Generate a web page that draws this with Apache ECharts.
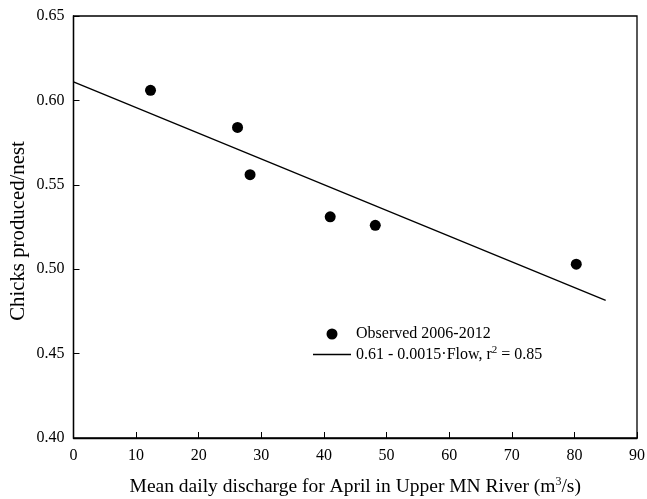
<!DOCTYPE html>
<html><head><meta charset="utf-8">
<script src="https://cdn.jsdelivr.net/npm/echarts@6/dist/echarts.min.js"></script>
<style>html,body{margin:0;padding:0;background:#fff}#c{width:647px;height:499px}</style>
</head><body><div id="c"></div>
<script>
const flow = [12.3, 26.2, 28.2, 41.0, 48.2, 80.3];
const chicks = [0.606, 0.584, 0.556, 0.531, 0.526, 0.503];
const fitX = [0, 85];
const fitY = [0.611, 0.4815];
const xTicks = [0, 10, 20, 30, 40, 50, 60, 70, 80, 90];
const yTicks = [0.40, 0.45, 0.50, 0.55, 0.60, 0.65];
const font = 'Liberation Serif';
const chart = echarts.init(document.getElementById('c'));
chart.setOption({
  animation: false,
  grid: {left: 73.5, right: 10, top: 16, bottom: 61, show: true, borderColor: '#000', borderWidth: 1.3,
    containLabel: false, outerBoundsMode: 'none'},
  xAxis: {type: 'value', min: xTicks[0], max: xTicks[xTicks.length-1], interval: 10,
    axisLine: {lineStyle: {color: '#000', width: 1.3}},
    axisTick: {inside: true, length: 6, lineStyle: {color: '#000'}},
    splitLine: {show: false},
    axisLabel: {color: '#000', fontFamily: font, fontSize: 16, margin: 10},
    name: 'Mean daily discharge for April in Upper MN River (m{sup|3}/s)',
    nameLocation: 'middle', nameGap: 38,
    nameTextStyle: {color: '#000', fontFamily: font, fontSize: 19.5,
      rich: {sup: {fontFamily: font, fontSize: 12, verticalAlign: 'top', color: '#000', padding: [0,0,9,0]}}}
  },
  yAxis: {type: 'value', min: 0.40, max: 0.65, interval: 0.05,
    axisLine: {lineStyle: {color: '#000', width: 1.3}},
    axisTick: {inside: true, length: 6, lineStyle: {color: '#000'}},
    splitLine: {show: false},
    axisLabel: {color: '#000', fontFamily: font, fontSize: 16, margin: 9, formatter: v => v.toFixed(2)},
    name: 'Chicks produced/nest', nameLocation: 'middle', nameGap: 44, nameMoveOverlap: false,
    nameTextStyle: {color: '#000', fontFamily: font, fontSize: 20.8, padding: [9, 8, 0, 0]}
  },
  legend: {orient: 'vertical', left: 308, top: 321, itemWidth: 38, itemHeight: 11, itemGap: 3,
    textStyle: {color: '#000', fontFamily: font, fontSize: 16,
      rich: {sup: {fontFamily: font, fontSize: 11, color: '#000', padding: [0,0,8,0]}}},
    data: [{name: 'Observed 2006-2012'},
           {name: '0.61 - 0.0015·Flow, r{sup|2} = 0.85', icon: 'path://M0,0H38V1.3H0Z'}]
  },
  series: [
    {type: 'scatter', name: 'Observed 2006-2012', data: flow.map((x,i)=>[x, chicks[i]]),
      symbolSize: 11, itemStyle: {color: '#000', opacity: 1}},
    {type: 'line', name: '0.61 - 0.0015·Flow, r{sup|2} = 0.85', data: fitX.map((x,i)=>[x, fitY[i]]),
      symbol: 'none', lineStyle: {color: '#000', width: 1.3}, itemStyle: {color: '#000'}}
  ]
});
</script></body></html>
